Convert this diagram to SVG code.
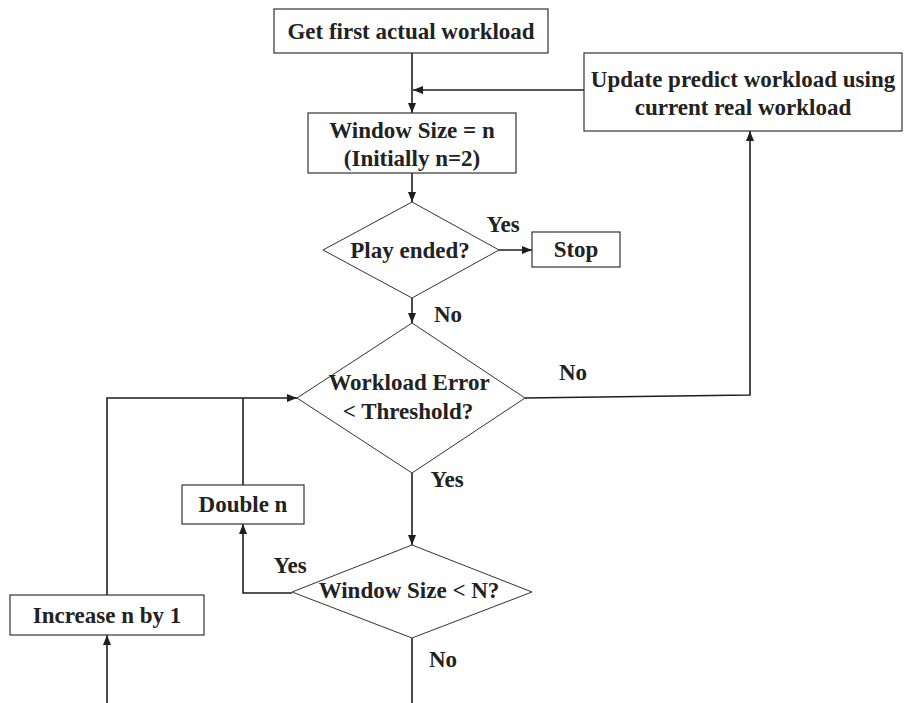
<svg xmlns="http://www.w3.org/2000/svg" width="904" height="703" viewBox="0 0 904 703">
<defs>
<marker id="ah" viewBox="0 0 10 8" refX="10" refY="4" markerWidth="10" markerHeight="8" markerUnits="userSpaceOnUse" orient="auto">
<path d="M0,0 L10,4 L0,8 Z" fill="#1e1e1e"/>
</marker>
<style>
.box{fill:#fff;stroke:#333;stroke-width:1.2}
.dia{fill:#fff;stroke:#333;stroke-width:1}
.t{font-family:"Liberation Serif","Times New Roman",serif;font-weight:bold;font-size:23px;fill:#222;text-anchor:middle}
.c{fill:none;stroke:#1e1e1e;stroke-width:1.6}
.bg{fill:#fff}
</style>
</defs>
<rect width="904" height="703" fill="#fff"/>
<g id="connectors">
<path class="c" d="M412,53 V113" marker-end="url(#ah)"/>
<path class="c" d="M584,90 H413" marker-end="url(#ah)"/>
<path class="c" d="M412,173 V202" marker-end="url(#ah)"/>
<path class="c" d="M499,250 H532" marker-end="url(#ah)"/>
<path class="c" d="M412,298 V323" marker-end="url(#ah)"/>
<path class="c" d="M412,473 V545" marker-end="url(#ah)"/>
<path class="c" d="M412,638 V703"/>
<path class="c" d="M525,398 L750,395 V131" marker-end="url(#ah)"/>
<path class="c" d="M292,593 H243 V524" marker-end="url(#ah)"/>
<path class="c" d="M243,485 V398"/>
<path class="c" d="M107,595 V398 H297" marker-end="url(#ah)"/>
<path class="c" d="M107,703 V635" marker-end="url(#ah)"/>
</g>
<g id="n_get">
<rect class="box" x="274" y="9" width="274" height="44"/>
<text class="t" x="411" y="39">Get first actual workload</text>
</g>
<g id="n_update">
<rect class="box" x="584" y="53" width="318" height="78"/>
<text class="t" x="743" y="87">Update predict workload using</text>
<text class="t" x="743" y="115">current real workload</text>
</g>
<g id="n_window">
<rect class="box" x="308" y="113" width="208" height="60"/>
<text class="t" x="412" y="138">Window Size = n</text>
<text class="t" x="412" y="166">(Initially n=2)</text>
</g>
<g id="n_play">
<polygon class="dia" points="412,202 499,250 412,298 323,250"/>
<text class="t" x="410" y="258">Play ended?</text>
</g>
<g id="n_stop">
<rect class="box" x="532" y="232" width="88" height="35"/>
<text class="t" x="576" y="257">Stop</text>
</g>
<g id="n_error">
<polygon class="dia" points="412,323 525,398 412,473 297,398"/>
<text class="t" x="409" y="390">Workload Error</text>
<text class="t" x="408" y="419">&lt; Threshold?</text>
</g>
<g id="n_double">
<rect class="box" x="182" y="485" width="122" height="39"/>
<text class="t" x="243" y="512">Double n</text>
</g>
<g id="n_size">
<polygon class="dia" points="412,545 532,592 412,638 292,592"/>
<text class="t" x="409" y="598">Window Size &lt; N?</text>
</g>
<g id="n_increase">
<rect class="box" x="10" y="595" width="194" height="40"/>
<text class="t" x="107" y="623">Increase n by 1</text>
</g>
<g id="labels">
<rect class="bg" x="485" y="214" width="36" height="22"/>
<text class="t" x="503" y="232">Yes</text>
<text class="t" x="448" y="322">No</text>
<text class="t" x="573" y="380">No</text>
<rect class="bg" x="429" y="469" width="36" height="22"/>
<text class="t" x="447" y="487">Yes</text>
<text class="t" x="290" y="573">Yes</text>
<text class="t" x="443" y="667">No</text>
</g>
</svg>
